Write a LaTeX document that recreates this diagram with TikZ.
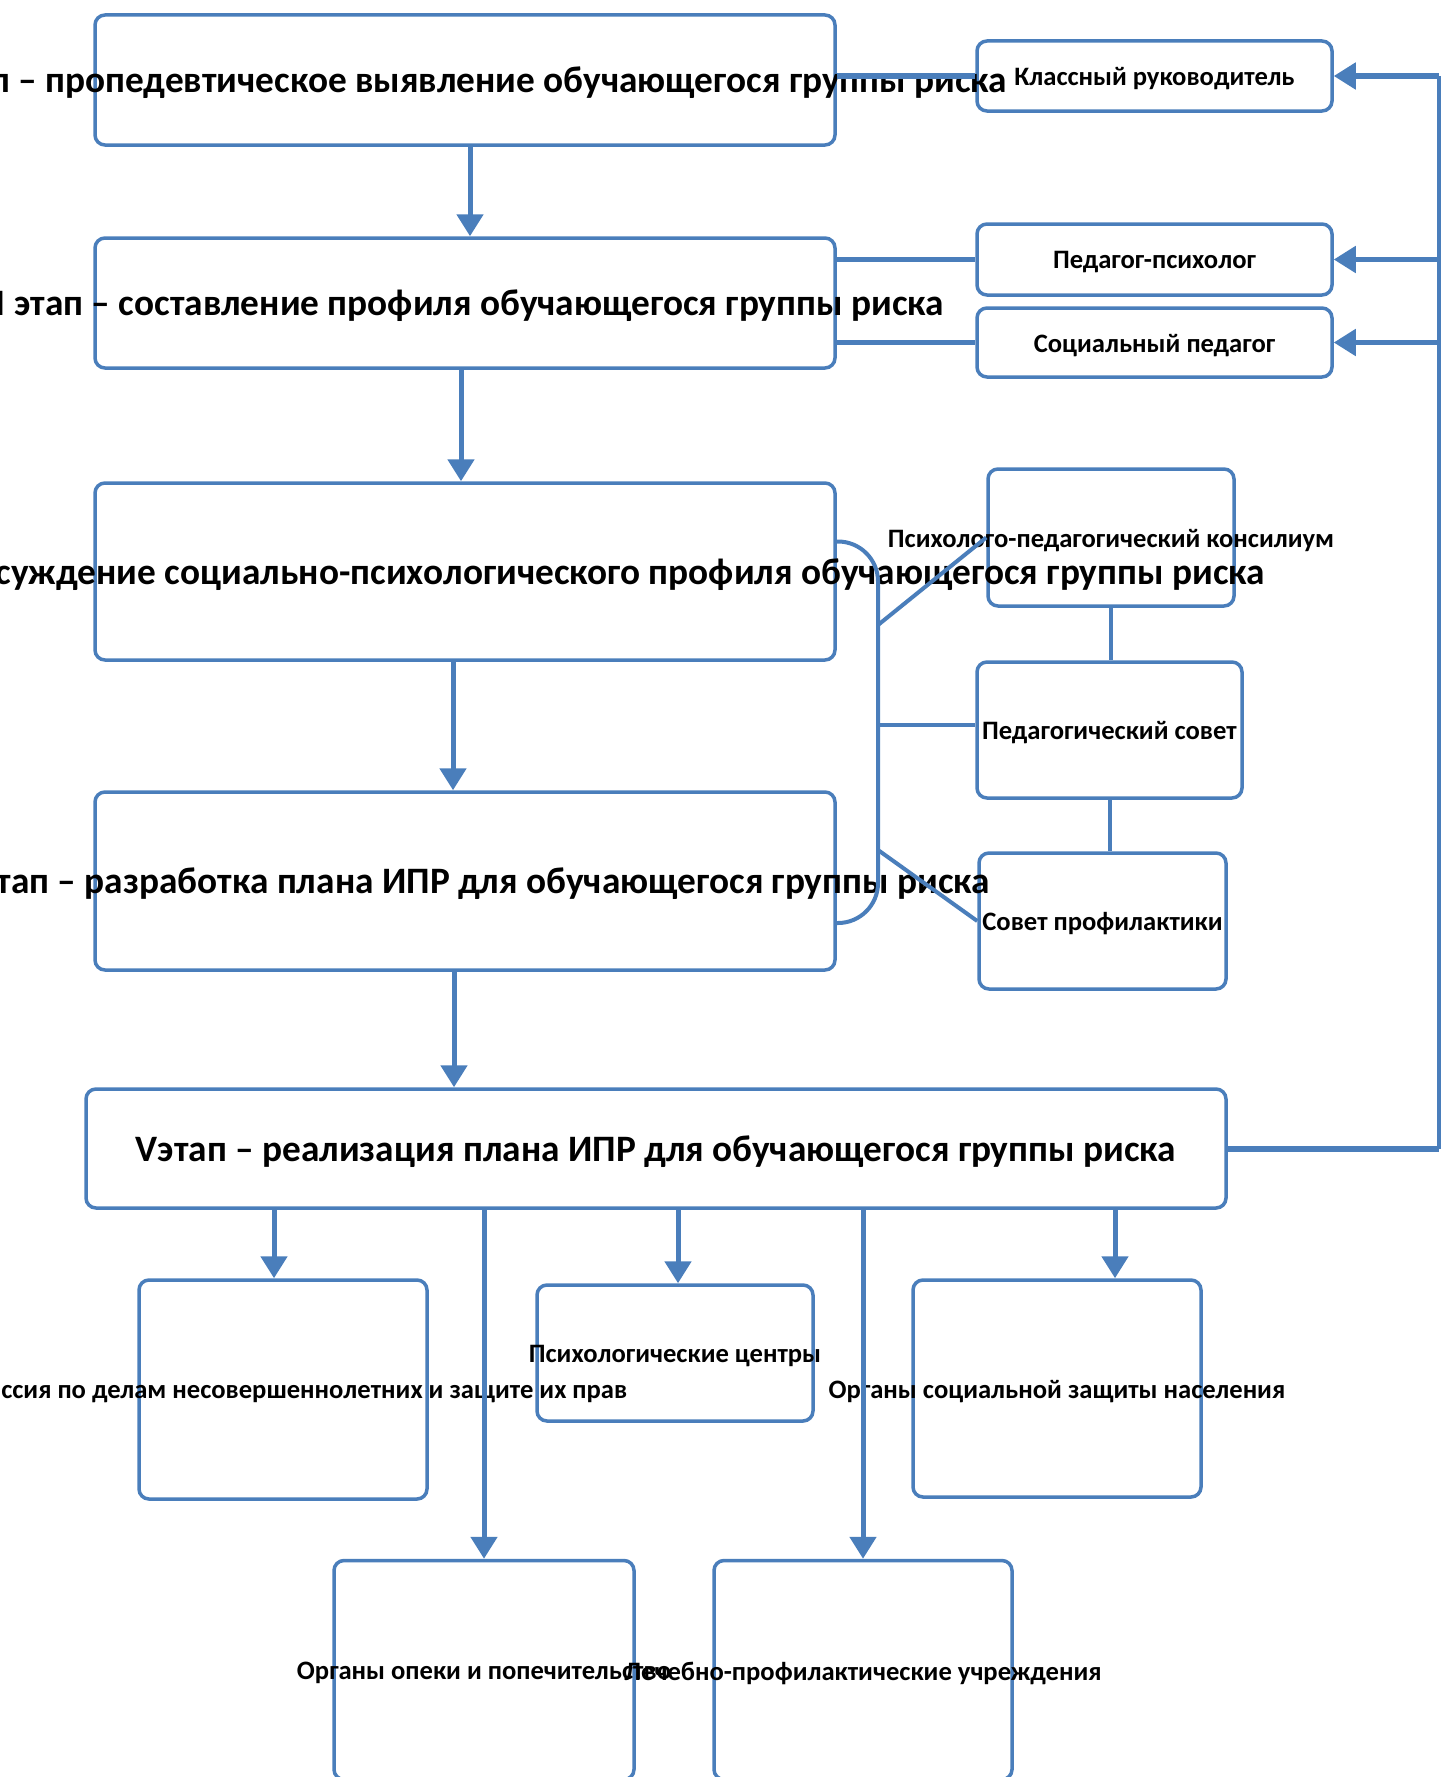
\documentclass[tikz,border=0pt]{standalone}
\usepackage{fontspec}
\setmainfont{Carlito}
\usetikzlibrary{arrows.meta,calc}
\definecolor{linkblue}{HTML}{4A7EBB}
\tikzset{
  box/.style={draw=linkblue, line width=3.5pt, fill=white, rounded corners=10pt, inner sep=0pt},
  bigtext/.style={font=\fontsize{37.3}{42}\selectfont\bfseries, yshift=-3pt},
  smalltext/.style={font=\fontsize{26.6}{30}\selectfont\bfseries, yshift=-3pt},
  arr/.style={draw=linkblue, line width=5pt, -{Triangle[width=26pt,length=22pt]}},
  link/.style={draw=linkblue, line width=4pt},
}

\begin{document}
\begin{tikzpicture}[x=1pt, y=-1pt]
  \useasboundingbox (0,0) rectangle (1440,1777);

  \node[box, minimum width=355pt, minimum height=70pt, label={[smalltext]center:Классный руководитель}] (klass) at (1154.5,76) {};
  \node[box, minimum width=355pt, minimum height=71pt, label={[smalltext]center:Педагог-психолог}] (pedpsy) at (1154.5,259.5) {};
  \node[box, minimum width=355pt, minimum height=69pt, label={[smalltext]center:Социальный педагог}] (socped) at (1154.5,342.5) {};
  \node[box, minimum width=246pt, minimum height=137pt, label={[smalltext]center:Психолого-педагогический консилиум}] (konsil) at (1111,537.5) {};
  \node[box, minimum width=265pt, minimum height=136pt, label={[smalltext]center:Педагогический совет}] (pedsov) at (1109.5,730) {};
  \node[box, minimum width=247pt, minimum height=136pt, label={[smalltext]center:Совет профилактики}] (sovprof) at (1102.5,921) {};

  \node[box, minimum width=740pt, minimum height=130pt, label={[bigtext]center:I этап – пропедевтическое выявление обучающегося группы риска}] (st1) at (465,80) {};
  \node[box, minimum width=740pt, minimum height=130pt, label={[bigtext]center:II этап – составление профиля обучающегося группы риска}] (st2) at (465,303) {};
  \node[box, minimum width=740pt, minimum height=177pt, label={[bigtext, xshift=74pt]center:III этап – обсуждение социально-психологического профиля обучающегося группы риска}] (st3) at (465,571.5) {};
  \node[box, minimum width=740pt, minimum height=178pt, label={[bigtext]center:IV этап – разработка плана ИПР для обучающегося группы риска}] (st4) at (465,881) {};
  \node[box, minimum width=1140pt, minimum height=119pt, label={[bigtext]center:Vэтап – реализация плана ИПР для обучающегося группы риска}] (st5) at (656,1148.5) {};

  \node[box, minimum width=276pt, minimum height=136pt, label={[smalltext]center:Психологические центры}] (psycen) at (675,1353) {};
  \node[box, minimum width=288pt, minimum height=219pt, label={[smalltext]center:Комиссия по делам несовершеннолетних и защите их прав}] (komis) at (283,1389.5) {};
  \node[box, minimum width=288pt, minimum height=217pt, label={[smalltext]center:Органы социальной защиты населения}] (orgsoc) at (1057,1388.5) {};
  \node[box, minimum width=300pt, minimum height=219pt, label={[smalltext]center:Органы опеки и попечительство}] (opeka) at (484,1670) {};
  \node[box, minimum width=298pt, minimum height=219pt, label={[smalltext]center:Лечебно-профилактические учреждения}] (lech) at (863,1670) {};

  \coordinate (bus) at (1439,0);
  \coordinate (brk) at (878,725);

  \draw[arr] ([xshift=5pt]st1.south) -- ([xshift=5pt]st2.north);
  \draw[arr] ([xshift=-4pt]st2.south) -- ([xshift=-4pt]st3.north);
  \draw[arr] ([xshift=-12pt]st3.south) -- ([xshift=-12pt]st4.north);
  \draw[arr] ([xshift=-11pt]st4.south) -- ([xshift=-11pt]st4.south |- st5.north);

  \draw[link, line width=5pt] (st1.east |- klass.west) -- (klass.west);
  \draw[link, line width=5pt] (st2.east |- pedpsy.west) -- (pedpsy.west);
  \draw[link, line width=5pt] (st2.east |- socped.west) -- (socped.west);

  \draw[link, line width=6pt] (st5.east) -- (st5.east -| bus);
  \draw[link, line width=3.5pt] (st5.east -| bus) -- (klass.east -| bus);
  \draw[arr] (klass.east -| bus) -- (klass.east);
  \draw[arr] (pedpsy.east -| bus) -- (pedpsy.east);
  \draw[arr] (socped.east -| bus) -- (socped.east);

  \draw[link, rounded corners=40pt] ([yshift=30pt]st3.east) -| (brk) |- ([yshift=-42pt]st4.east);
  \draw[link] ([yshift=100pt]brk) -- (konsil.west);
  \draw[link] (brk) -- (brk -| pedsov.west);
  \draw[link] ([yshift=-125pt]brk) -- (sovprof.west);
  \draw[link] (konsil.south) -- (konsil.south |- pedsov.north);
  \draw[link] (pedsov.south) -- (pedsov.south |- sovprof.north);

  \draw[arr] ([xshift=-9pt]komis.north |- st5.south) -- ([xshift=-9pt]komis.north);
  \draw[arr] (opeka.north |- st5.south) -- (opeka.north);
  \draw[arr] ([xshift=3pt]psycen.north |- st5.south) -- ([xshift=3pt]psycen.north);
  \draw[arr] (lech.north |- st5.south) -- (lech.north);
  \draw[arr] ([xshift=58pt]orgsoc.north |- st5.south) -- ([xshift=58pt]orgsoc.north);
\end{tikzpicture}
\end{document}
